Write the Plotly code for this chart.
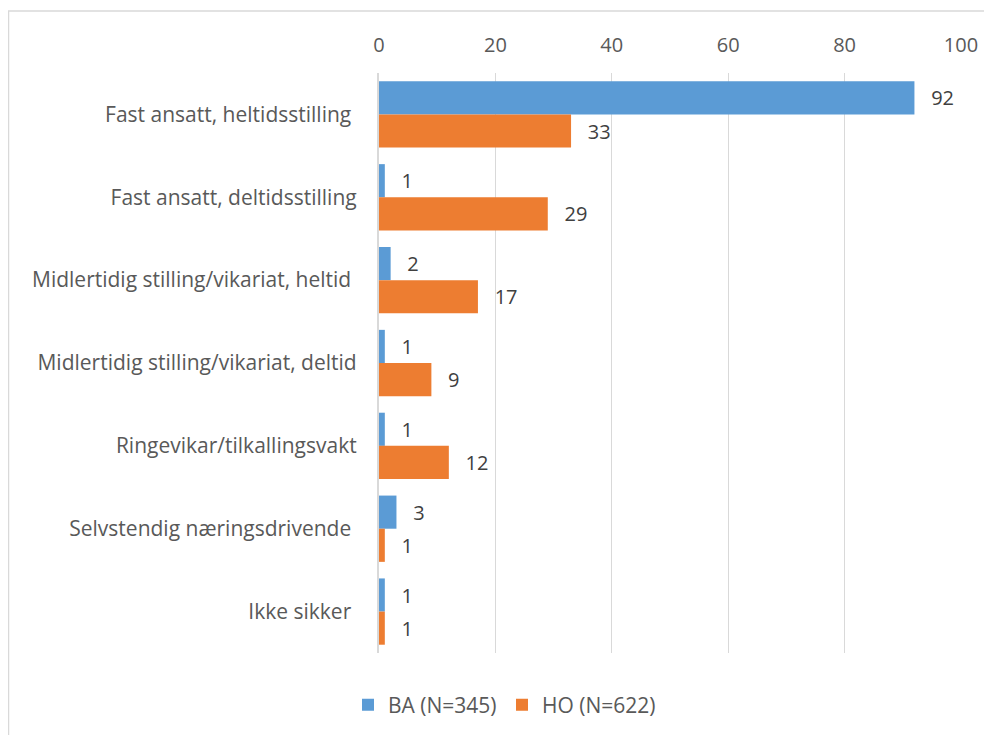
import plotly.graph_objects as go

categories = [
    "Fast ansatt, heltidsstilling ",
    "Fast ansatt, deltidsstilling",
    "Midlertidig stilling/vikariat, heltid ",
    "Midlertidig stilling/vikariat, deltid",
    "Ringevikar/tilkallingsvakt",
    "Selvstendig næringsdrivende ",
    "Ikke sikker ",
]
ba_values = [92, 1, 2, 1, 1, 3, 1]
ho_values = [33, 29, 17, 9, 12, 1, 1]
series_names = ["BA (N=345)", "HO (N=622)"]
tick_vals = [0, 20, 40, 60, 80, 100]

FONT = "Open Sans"
GRAY = "#595959"
DARK = "#404040"

fig = go.Figure()
for name, vals, col in [(series_names[0], ba_values, "#5B9BD5"),
                        (series_names[1], ho_values, "#ED7D31")]:
    fig.add_trace(go.Bar(
        y=categories, x=vals, orientation="h", name=name,
        marker=dict(color=col, line=dict(width=0)),
        text=vals, texttemplate="  \u2009%{x}", textposition="outside",
        textfont=dict(family=FONT, size=20, color=DARK), cliponaxis=False,
    ))

# page body has an 8px margin, so figure coords = page coords - 8
L, R, T, B = 371, 39, 65, 90
W, H = 992, 735
pw = W - L - R
ph = H - T - B

fig.update_layout(
    width=W, height=H,
    margin=dict(l=L, r=R, t=T, b=B, autoexpand=False),
    barmode="group", bargap=0.2, bargroupgap=0,
    plot_bgcolor="white", paper_bgcolor="white",
    font=dict(family=FONT, size=20, color=GRAY),
    showlegend=True,
    legend=dict(orientation="h", x=(340 - L) / pw, xanchor="left",
                y=-(697 - (H - B)) / ph, yanchor="middle",
                itemwidth=30, entrywidth=109,
                font=dict(family=FONT, size=21, color=GRAY), traceorder="normal"),
    xaxis=dict(side="top", range=[0, 100], tickvals=tick_vals, showgrid=True,
               gridcolor="#d9d9d9", gridwidth=1, zeroline=False, showline=False,
               ticks="outside", ticklen=12, tickcolor="rgba(0,0,0,0)", automargin=False,
               tickfont=dict(family=FONT, size=20, color=GRAY)),
    yaxis=dict(autorange="reversed", showline=True, linecolor="#d9d9d9", linewidth=1.5,
               ticks="", ticksuffix="   ", automargin=False,
               tickfont=dict(family=FONT, size=21, color=GRAY)),
    shapes=[dict(type="rect", xref="paper", yref="paper",
                 x0=(0.5 - L) / pw, x1=(1000 - L) / pw,
                 y0=-(760 - (H - B)) / ph, y1=1 + (T - 3) / ph,
                 line=dict(color="#d9d9d9", width=1.5), fillcolor="rgba(0,0,0,0)")],
)

fig.write_html("out.html")
